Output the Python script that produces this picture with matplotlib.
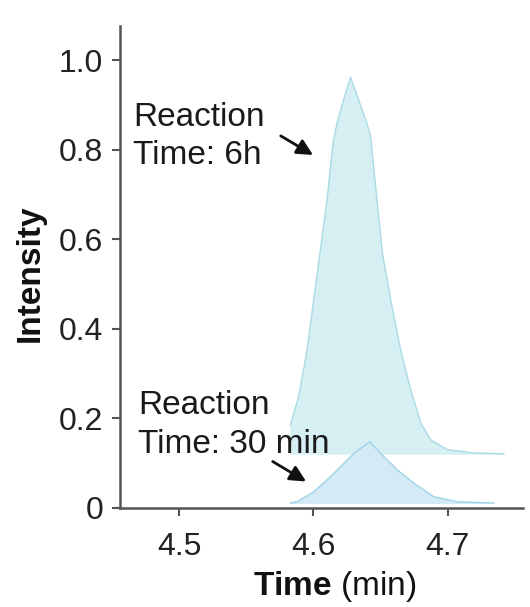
import matplotlib
matplotlib.use("Agg")
import matplotlib.pyplot as plt

plt.rcParams['font.family'] = ['Liberation Sans', 'DejaVu Sans']
plt.rcParams['mathtext.fontset'] = 'custom'
plt.rcParams['mathtext.rm'] = 'Liberation Sans'
plt.rcParams['mathtext.bf'] = 'Liberation Sans:bold'

# Reaction time 6h chromatogram (baseline offset)
t_6h = [4.5828, 4.5890, 4.5953, 4.6002, 4.6052, 4.6102, 4.6127, 4.6147,
        4.6177, 4.6226, 4.6276, 4.6326, 4.6388, 4.6425, 4.6450, 4.6480,
        4.6513, 4.6575, 4.6649, 4.6724, 4.6799, 4.6873, 4.6998, 4.7194,
        4.7418]
i_6h = [0.185, 0.249, 0.353, 0.465, 0.577, 0.689, 0.763, 0.817,
        0.861, 0.913, 0.962, 0.920, 0.868, 0.831, 0.756, 0.667,
        0.570, 0.465, 0.353, 0.264, 0.190, 0.152, 0.130, 0.123,
        0.121]
base_6h = 0.119

# Reaction time 30 min chromatogram
t_30 = [4.5828, 4.5878, 4.6002, 4.6127, 4.6301, 4.6420, 4.6500, 4.6625,
        4.6749, 4.6898, 4.7072, 4.7343]
i_30 = [0.011, 0.014, 0.036, 0.070, 0.122, 0.148, 0.122, 0.085,
        0.055, 0.025, 0.014, 0.011]
base_30 = 0.009

yticks = [0, 0.2, 0.4, 0.6, 0.8, 1.0]
ytick_labels = ["0", "0.2", "0.4", "0.6", "0.8", "1.0"]
xticks = [4.5, 4.6, 4.7]
xtick_labels = ["4.5", "4.6", "4.7"]

fig = plt.figure(figsize=(5.30, 6.07), dpi=100)
ax = fig.add_axes([0.2264, 0.1631, 0.9868 - 0.2264, 0.957 - 0.1631])

ax.fill_between(t_6h, i_6h, base_6h, color='#d6eff3', edgecolor='none')
ax.plot(t_6h, i_6h, color='#aadbe4', lw=1.0)
ax.fill_between(t_30, i_30, base_30, color='#d4ebf6', edgecolor='none')
ax.plot(t_30, i_30, color='#9ed4e8', lw=1.0)

ax.set_xlim(4.456, 4.756)
ax.set_ylim(0, 1.076)
ax.set_xticks(xticks)
ax.set_xticklabels(xtick_labels)
ax.set_yticks(yticks)
ax.set_yticklabels(ytick_labels)

for s in ['top', 'right']:
    ax.spines[s].set_visible(False)
for s in ['left', 'bottom']:
    ax.spines[s].set_color('#555555')
    ax.spines[s].set_linewidth(1.8)
ax.tick_params(axis='both', colors='#555555', labelcolor='#222222',
               labelsize=23, width=1.5, length=5.5)
ax.tick_params(axis='x', pad=12)
ax.tick_params(axis='y', pad=6.5)

fig.text(30 / 530, 1 - 273 / 607, 'Intensity', fontsize=24, fontweight='bold',
         rotation=90, ha='center', va='center', color='#111111')
fig.text(335 / 530, (607 - 595) / 607, r'$\bf{Time}$ (min)', fontsize=24,
         ha='center', va='baseline', color='#111111')

ax.text(4.466, 0.767, 'Reaction\nTime: 6h', fontsize=24, color='#1a1a1a',
        linespacing=1.33, va='baseline', ha='left')
ax.annotate('', xy=(4.6015, 0.785), xytext=(4.5739, 0.834),
            arrowprops=dict(arrowstyle='-|>', color='#111111', lw=2.0,
                            mutation_scale=24))

ax.text(4.4694, 0.123, 'Reaction\nTime: 30 min', fontsize=24, color='#1a1a1a',
        linespacing=1.33, va='baseline', ha='left')
ax.annotate('', xy=(4.5963, 0.056), xytext=(4.5679, 0.107),
            arrowprops=dict(arrowstyle='-|>', color='#111111', lw=2.0,
                            mutation_scale=24))

fig.savefig('out.png', dpi=100)
